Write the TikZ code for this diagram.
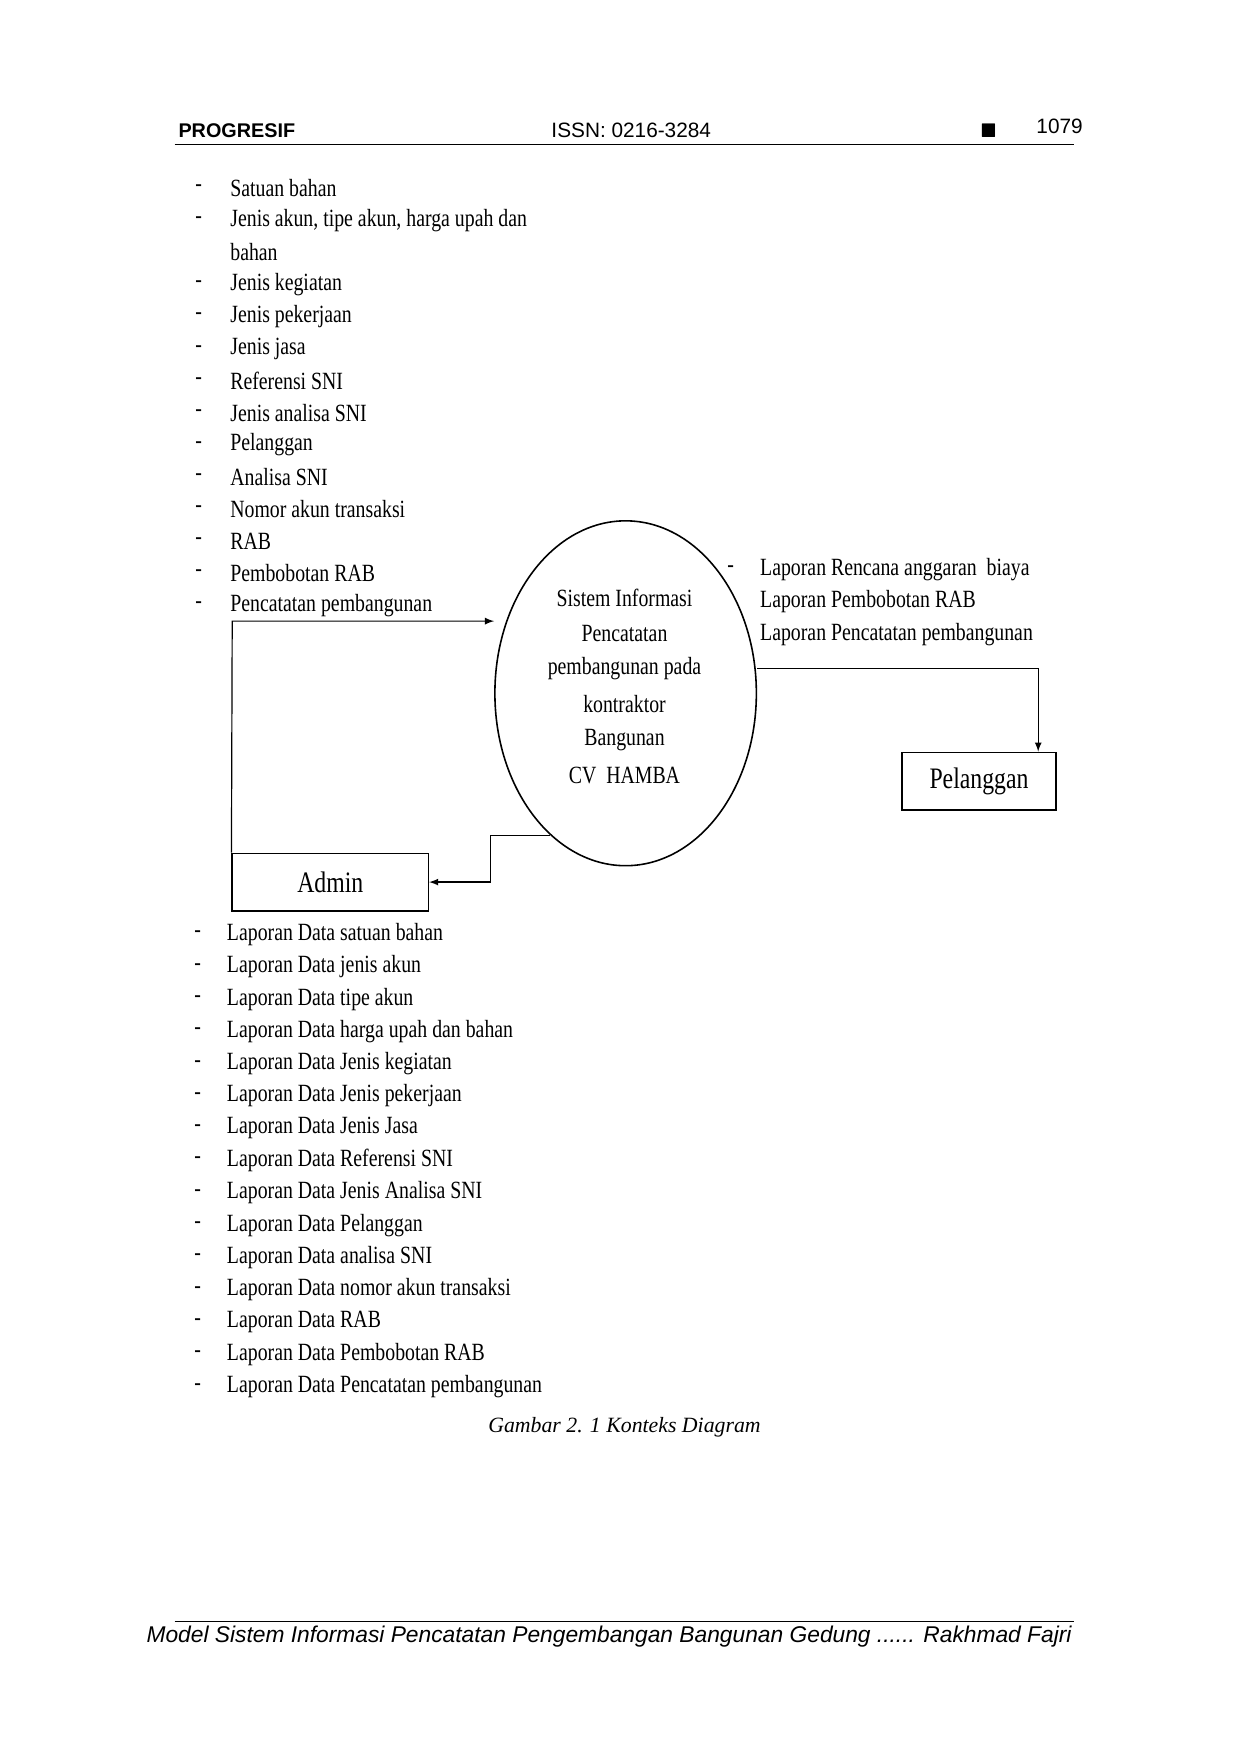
\documentclass[tikz,border=0pt]{standalone}
\usepackage{amssymb}
\usepackage{fontspec}
\setmainfont{Liberation Serif}
\newfontfamily\narrowfont{Liberation Serif}[FakeStretch=0.8]
\newfontfamily\headfont{Liberation Sans}
\usetikzlibrary{shapes, arrows, positioning}

\tikzset{
  item/.style={anchor=west, inner sep=0pt, font=\narrowfont\fontsize{12.5}{14}\selectfont},
  ent/.style={draw, thick, minimum height=1.02cm, inner sep=0pt, font=\narrowfont\fontsize{15}{17}\selectfont},
  flow/.style={->, >=latex, semithick},
}

\begin{document}
\begin{tikzpicture}[x=0.02cm, y=-0.02cm]
    \useasboundingbox (0,0) rectangle (1100,1556);

    % header
    \node[anchor=west, inner sep=0pt, font=\headfont\bfseries\fontsize{10}{12}\selectfont] (journal) at (158,116) {PROGRESIF};
    \node[inner sep=0pt, font=\headfont\fontsize{10.5}{12}\selectfont] (issn) at (560,116) {ISSN: 0216-3284};
    \node[inner sep=0pt, font=\fontsize{10}{12}\selectfont] (sq) at (877,116) {$\blacksquare$};
    \node[inner sep=0pt, font=\headfont\fontsize{10.5}{12}\selectfont] (page) at (940,112) {1079};
    \draw (155,128) -- (953,128);

    % data masuk
    \foreach \t [count=\i] in {Satuan bahan, {Jenis akun, tipe akun, harga upah dan}, bahan,
        Jenis kegiatan, Jenis pekerjaan, Jenis jasa, Referensi SNI, Jenis analisa SNI,
        Pelanggan, Analisa SNI, Nomor akun transaksi, RAB, Pembobotan RAB,
        Pencatatan pembangunan}
    {
        \pgfmathsetmacro\yy{167+(\i-1)*28.46}
        \ifnum\i=3\else
        \node[item] (din\i) at (173,\yy) {-};
        \fi
        \node[item] (tin\i) at (204,\yy) {\t};
    }

    % proses
    \node[draw, thick, ellipse, minimum width=4.64cm, minimum height=6.12cm] (sys) at (555,615) {};
    \foreach \t [count=\i] in {Sistem Informasi, Pencatatan, pembangunan pada,
        kontraktor, Bangunan, CV\ \ HAMBA}
    {
        \pgfmathsetmacro\yy{530+(\i-1)*31.6}
        \node[item, anchor=center] (ts\i) at (554,\yy) {\t};
    }

    % data keluar pelanggan
    \node[item] (dout) at (645,505) {-};
    \node[item] (tout1) at (674,505) {Laporan Rencana anggaran\ \ biaya};
    \node[item] (tout2) at (674,534) {Laporan Pembobotan RAB};
    \node[item] (tout3) at (674,563) {Laporan Pencatatan pembangunan};

    % entitas
    \node[ent, minimum width=2.74cm] (pelanggan) at (868.5,693) {Pelanggan};
    \node[ent, minimum width=3.48cm] (admin) at (293,782.5) {Admin};

    \coordinate (c1) at (921,593);
    \coordinate (c2) at (206,551);
    \coordinate (c3) at (435,741);
    \coordinate (c4) at (488,741);
    \draw[flow] (sys.east |- c1) -- (c1) -- (pelanggan.north -| c1);
    \draw[flow] (admin.north west) -- (c2) -- (sys.west |- c2);
    \draw[flow] (c4) -- (c3) -- (c3 |- admin.east) -- (admin.east);

    % laporan admin
    \foreach \t [count=\i] in {Laporan Data satuan bahan, Laporan Data jenis akun,
        Laporan Data tipe akun, Laporan Data harga upah dan bahan,
        Laporan Data Jenis kegiatan, Laporan Data Jenis pekerjaan,
        Laporan Data Jenis Jasa, Laporan Data Referensi SNI,
        Laporan Data Jenis Analisa SNI, Laporan Data Pelanggan,
        Laporan Data analisa SNI, Laporan Data nomor akun transaksi,
        Laporan Data RAB, Laporan Data Pembobotan RAB,
        Laporan Data Pencatatan pembangunan}
    {
        \pgfmathsetmacro\yy{829+(\i-1)*28.65}
        \node[item] (dlap\i) at (172,\yy) {-};
        \node[item] (tlap\i) at (201,\yy) {\t};
    }

    % caption dan footer
    \node[inner sep=0pt, font=\itshape\fontsize{11}{13}\selectfont] (cap) at (554,1266) {Gambar 2. 1 Konteks Diagram};
    \draw (155,1438) -- (953,1438);
    \node[anchor=east, inner sep=0pt, font=\headfont\itshape\fontsize{11.5}{13}\selectfont] (foot) at (951,1452)
        {Model Sistem Informasi Pencatatan Pengembangan Bangunan Gedung ...... Rakhmad Fajri};
\end{tikzpicture}
\end{document}
